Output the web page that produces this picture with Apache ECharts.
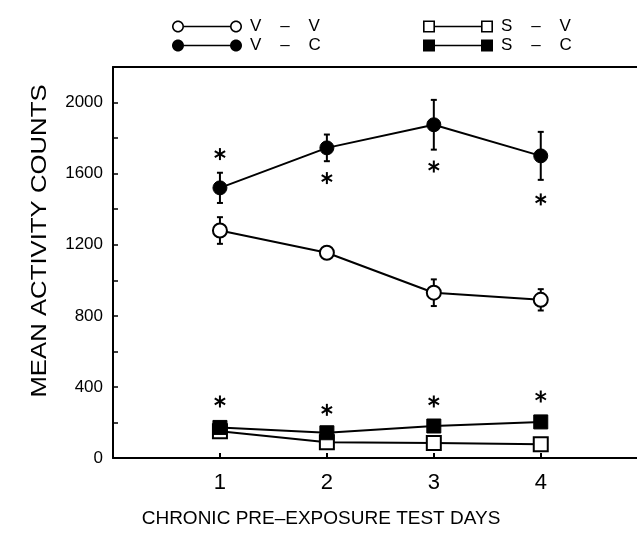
<!DOCTYPE html>
<html>
<head>
<meta charset="utf-8">
<script src="https://cdn.jsdelivr.net/npm/echarts@6/dist/echarts.min.js"></script>
<style>
  html, body { margin: 0; padding: 0; background: #fff; }
  #chart { width: 637px; height: 533px; }
</style>
</head>
<body>
<div id="chart"></div>
<script>
// values
const days = [1, 2, 3, 4];
const vvMean = [1280, 1155, 930, 890];
const vvErr = [75, 0, 75, 60];
const vcMean = [1520, 1745, 1875, 1700];
const vcErr = [85, 75, 140, 135];
const svMean = [150, 88, 84, 78];
const scMean = [172, 142, 180, 203];
// asterisks (significance marks)
const vcStars = [1710, 1575, 1640, 1455];
const scStars = [318, 271, 318, 346];
// axis ticks
const xTickValues = [1, 2, 3, 4];
const yTickValues = [0, 200, 400, 600, 800, 1000, 1200, 1400, 1600, 1800, 2000];
const yLabelValues = [0, 400, 800, 1200, 1600, 2000];

const FONT = "'Liberation Sans', Arial, sans-serif";

// legend icons: marker — line — marker (polygons, 70 x 12 box)
function ring(cx, r, rev) {
  let pts = [];
  for (let k = 0; k < 32; k++) {
    let a = (k / 32) * Math.PI * 2;
    if (rev) a = -a;
    pts.push((cx + r * Math.cos(a)).toFixed(2) + "," + (6 + r * Math.sin(a)).toFixed(2));
  }
  return "M" + pts.join(" L") + " Z ";
}
function box(x0, s, rev) {
  return rev
    ? `M${x0},${6 - s} L${x0},${6 + s} L${x0 + 2 * s},${6 + s} L${x0 + 2 * s},${6 - s} Z `
    : `M${x0},${6 - s} L${x0 + 2 * s},${6 - s} L${x0 + 2 * s},${6 + s} L${x0},${6 + s} Z `;
}
const bar = "M12,5.25 L58,5.25 L58,6.75 L12,6.75 Z ";
const iconOpenCircle = "path://" + ring(6, 6) + ring(6, 4.4, true) + bar + ring(64, 6) + ring(64, 4.4, true);
const iconFullCircle = "path://" + ring(6, 6) + bar + ring(64, 6);
const iconOpenSquare = "path://" + box(0, 6) + box(1.6, 4.4, true) + bar + box(58, 6) + box(59.6, 4.4, true);
const iconFullSquare = "path://" + box(0, 6) + bar + box(58, 6);

function pairs(vals) {
  return days.map((d, i) => [d, vals[i]]);
}

function errBars(mean, err) {
  return days.map((d, i) => [d, mean[i], err[i]]);
}

function renderErr(params, api) {
  const e = api.value(2);
  if (!e) return;
  const x = api.value(0), y = api.value(1);
  const top = api.coord([x, y + e]);
  const bot = api.coord([x, y - e]);
  const st = { stroke: "#000", lineWidth: 2 };
  return {
    type: "group",
    children: [
      { type: "line", shape: { x1: top[0], y1: top[1], x2: bot[0], y2: bot[1] }, style: st },
      { type: "line", shape: { x1: top[0] - 3, y1: top[1], x2: top[0] + 3, y2: top[1] }, style: st },
      { type: "line", shape: { x1: bot[0] - 3, y1: bot[1], x2: bot[0] + 3, y2: bot[1] }, style: st },
    ],
  };
}

function renderStar(params, api) {
  const p = api.coord([api.value(0), api.value(1)]);
  const r = 6;
  const kids = [];
  for (let k = 0; k < 3; k++) {
    const a = Math.PI / 2 + (k * Math.PI) / 3;
    kids.push({
      type: "line",
      shape: {
        x1: p[0] - r * Math.cos(a), y1: p[1] - r * Math.sin(a),
        x2: p[0] + r * Math.cos(a), y2: p[1] + r * Math.sin(a),
      },
      style: { stroke: "#000", lineWidth: 2 },
    });
  }
  return { type: "group", children: kids };
}

const openStyle = { color: "#fff", borderColor: "#000", borderWidth: 2 };
const fullStyle = { color: "#000", borderColor: "#000", borderWidth: 1 };
const legendIconStyle = { color: "#000", borderWidth: 0 };
const legendText = { fontSize: 17, color: "#000", fontFamily: FONT, padding: [0, 0, 0, 3] };

const myChart = echarts.init(document.getElementById("chart"));
myChart.setOption({
  animation: false,
  textStyle: { fontFamily: FONT, color: "#000" },
  grid: { left: 113, right: 0, top: 67, bottom: 75, containLabel: false },
  legend: [
    {
      orient: "vertical", left: 172, top: 18, padding: 0,
      itemWidth: 70, itemHeight: 12, itemGap: 2,
      selectedMode: false,
      textStyle: legendText,
      data: [
        { name: "V    –    V", icon: iconOpenCircle, itemStyle: legendIconStyle },
        { name: "V    –    C", icon: iconFullCircle, itemStyle: legendIconStyle },
      ],
    },
    {
      orient: "vertical", left: 423, top: 18, padding: 0,
      itemWidth: 70, itemHeight: 12, itemGap: 2,
      selectedMode: false,
      textStyle: legendText,
      data: [
        { name: "S    –    V", icon: iconOpenSquare, itemStyle: legendIconStyle },
        { name: "S    –    C", icon: iconFullSquare, itemStyle: legendIconStyle },
      ],
    },
  ],
  xAxis: [
    {
      type: "value", min: 0, max: 4.9,
      axisLine: { lineStyle: { color: "#000", width: 2 } },
      axisTick: { inside: true, length: 5, customValues: xTickValues, lineStyle: { color: "#000", width: 2 } },
      axisLabel: { customValues: xTickValues, fontSize: 22, margin: 14, color: "#000", fontFamily: FONT },
      splitLine: { show: false },
    },
    {
      type: "value", min: 0, max: 4.9, position: "top",
      axisLine: { lineStyle: { color: "#000", width: 2 } },
      axisTick: { show: false },
      axisLabel: { show: false },
      splitLine: { show: false },
    },
  ],
  yAxis: {
    type: "value", min: 0, max: 2200,
    axisLine: { show: true, lineStyle: { color: "#000", width: 2 } },
    axisTick: { inside: true, length: 5, customValues: yTickValues, lineStyle: { color: "#000", width: 1.5 } },
    axisLabel: {
      customValues: yLabelValues, fontSize: 17, margin: 10, color: "#000", fontFamily: FONT,
      formatter: (v) => String(v),
    },
    splitLine: { show: false },
  },
  graphic: [
    {
      type: "text", x: 40, y: 241, rotation: Math.PI / 2, scaleX: 1.17,
      style: { text: "MEAN ACTIVITY COUNTS", fontSize: 22, fontFamily: FONT, fill: "#000", align: "center", verticalAlign: "middle" },
    },
    {
      type: "text", x: 321, y: 519,
      style: { text: "CHRONIC PRE–EXPOSURE TEST DAYS", fontSize: 19, fontFamily: FONT, fill: "#000", align: "center", verticalAlign: "middle" },
    },
  ],
  series: [
    { type: "custom", name: "vv-err", z: 1, renderItem: renderErr, data: errBars(vvMean, vvErr) },
    { type: "custom", name: "vc-err", z: 1, renderItem: renderErr, data: errBars(vcMean, vcErr) },
    {
      name: "V    –    V", type: "line", z: 3, data: pairs(vvMean),
      symbol: "circle", symbolSize: 14, itemStyle: openStyle,
      lineStyle: { color: "#000", width: 2 },
    },
    {
      name: "V    –    C", type: "line", z: 3, data: pairs(vcMean),
      symbol: "circle", symbolSize: 14, itemStyle: fullStyle,
      lineStyle: { color: "#000", width: 2 },
    },
    {
      name: "S    –    V", type: "line", z: 3, data: pairs(svMean),
      symbol: "rect", symbolSize: 14, itemStyle: openStyle,
      lineStyle: { color: "#000", width: 2 },
    },
    {
      name: "S    –    C", type: "line", z: 4, data: pairs(scMean),
      symbol: "rect", symbolSize: 14, itemStyle: fullStyle,
      lineStyle: { color: "#000", width: 2 },
    },
    { type: "custom", name: "vc-stars", z: 2, renderItem: renderStar, data: pairs(vcStars) },
    { type: "custom", name: "sc-stars", z: 2, renderItem: renderStar, data: pairs(scStars) },
  ],
});
</script>
</body>
</html>
